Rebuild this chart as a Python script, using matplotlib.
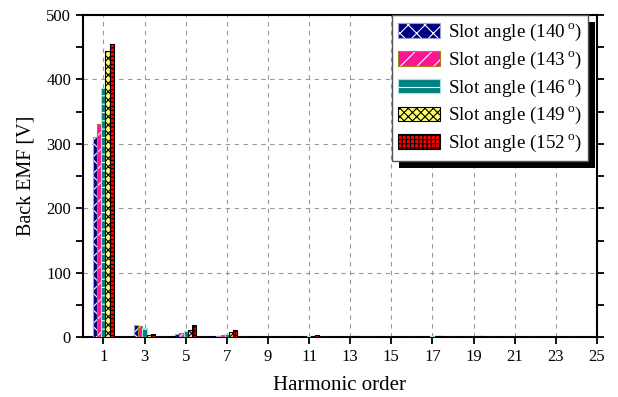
import numpy as np
import matplotlib
matplotlib.use('Agg')
import matplotlib.pyplot as plt
from matplotlib.patches import Rectangle
from matplotlib.legend_handler import HandlerTuple

plt.rcParams['font.family'] = ['Liberation Serif', 'DejaVu Serif']
plt.rcParams['mathtext.fontset'] = 'custom'
plt.rcParams['mathtext.rm'] = 'Liberation Serif'
plt.rcParams['hatch.linewidth'] = 0.8

# harmonic spectrum of the back EMF for each slot angle
harmonics = np.arange(1, 26)
emf_140 = [310, 1.0, 20, 1.0, 5, 0.8, 2.5, 0.5, 0.5, 0.5, 1.0, 0.5, 1.0, 0.5, 0.8, 0.5, 1.2, 0.5, 0.8, 0.5, 0.5, 0.5, 0.8, 0.5, 0.5]
emf_143 = [330, 1.0, 17, 1.0, 7, 0.8, 4.5, 0.5, 0.5, 0.5, 1.0, 0.5, 1.0, 0.5, 0.8, 0.5, 1.2, 0.5, 0.8, 0.5, 0.5, 0.5, 0.8, 0.5, 0.5]
emf_146 = [387, 0.8, 14, 0.8, 10, 0.8, 6, 0.5, 0.5, 0.5, 1.5, 0.5, 1.0, 0.5, 0.8, 0.5, 1.5, 0.5, 1.0, 0.5, 0.5, 0.5, 0.8, 0.5, 0.5]
emf_149 = [444, 1.0, 4, 1.0, 12, 1.0, 8, 0.5, 0.5, 0.5, 3.0, 0.5, 1.5, 0.5, 1.0, 0.5, 2.5, 0.5, 1.5, 0.5, 0.5, 0.5, 1.0, 0.5, 0.5]
emf_152 = [454, 1.5, 6, 1.5, 19, 1.0, 11, 0.5, 0.5, 0.5, 4.0, 0.5, 2.0, 0.5, 1.0, 0.5, 3.0, 0.5, 2.0, 0.5, 0.5, 0.5, 1.0, 0.5, 0.5]

series = [emf_140, emf_143, emf_146, emf_149, emf_152]
angles = [140, 143, 146, 149, 152]
faces = ['#000080', '#ff1493', '#008080', '#ffff66', '#ff0000']
hatch_colors = ['white', 'white', 'white', 'black', 'black']
hatches = ['xx', '//', '--', 'xxxx', '++++']
edges = ['#a0a0d0', '#a08020', '#a0e0e0', 'black', 'black']

fig = plt.figure(figsize=(6.18, 3.97), dpi=100)
ax = fig.add_axes([0.134, 0.150, 0.832, 0.813])

width = 0.2
handles = []
for k, vals in enumerate(series):
    x = harmonics - 0.4 + k * width
    filled = ax.bar(x, vals, width, color=faces[k], edgecolor=hatch_colors[k],
                    hatch=hatches[k], linewidth=0, zorder=3)
    outline = ax.bar(x, vals, width, fill=False, edgecolor=edges[k],
                     linewidth=0.8, zorder=3)
    handles.append((filled[0], outline[0]))

ax.set_xlim(0, 25)
ax.set_ylim(0, 500)
ax.set_xticks(np.arange(1, 26, 2))
ax.set_yticks(np.arange(0, 501, 100))
ax.set_yticks(np.arange(50, 500, 100), minor=True)
ax.tick_params(axis='both', which='both', direction='out', length=5, width=1.3,
               labelsize=12, right=True)
ax.tick_params(axis='y', which='minor', right=True)
ax.grid(True, which='major', color='#999999', linestyle=(0, (4, 4)), linewidth=0.8, zorder=0)
for s in ax.spines.values():
    s.set_linewidth(1.5)

ax.set_xlabel('Harmonic order', fontsize=15, labelpad=8)
ax.set_ylabel('Back EMF [V]', fontsize=14.5, labelpad=8)

labels = [r'Slot angle (%d$\,^{\mathrm{o}}$)' % a for a in angles]
leg = ax.legend(handles, labels, handler_map={tuple: HandlerTuple(ndivide=1)},
                loc='upper right', bbox_to_anchor=(0.983, 0.998), borderaxespad=0,
                fontsize=13.7, handlelength=2.2, handleheight=0.8, labelspacing=0.35,
                handletextpad=0.4, borderpad=0.35, fancybox=False, framealpha=1)
leg.get_frame().set_edgecolor('#555555')
leg.get_frame().set_linewidth(1.0)
leg.set_zorder(6)

# solid drop shadow behind the legend box
fig.canvas.draw()
bb = leg.get_window_extent().transformed(fig.transFigure.inverted())
dx, dy = 7 / 618, 7 / 397
ax.add_patch(Rectangle((bb.x0 + dx, bb.y0 - dy), bb.width, bb.height,
                       transform=fig.transFigure, facecolor='black',
                       edgecolor='none', zorder=5.5, clip_on=False))

fig.savefig('out.png', dpi=100)
